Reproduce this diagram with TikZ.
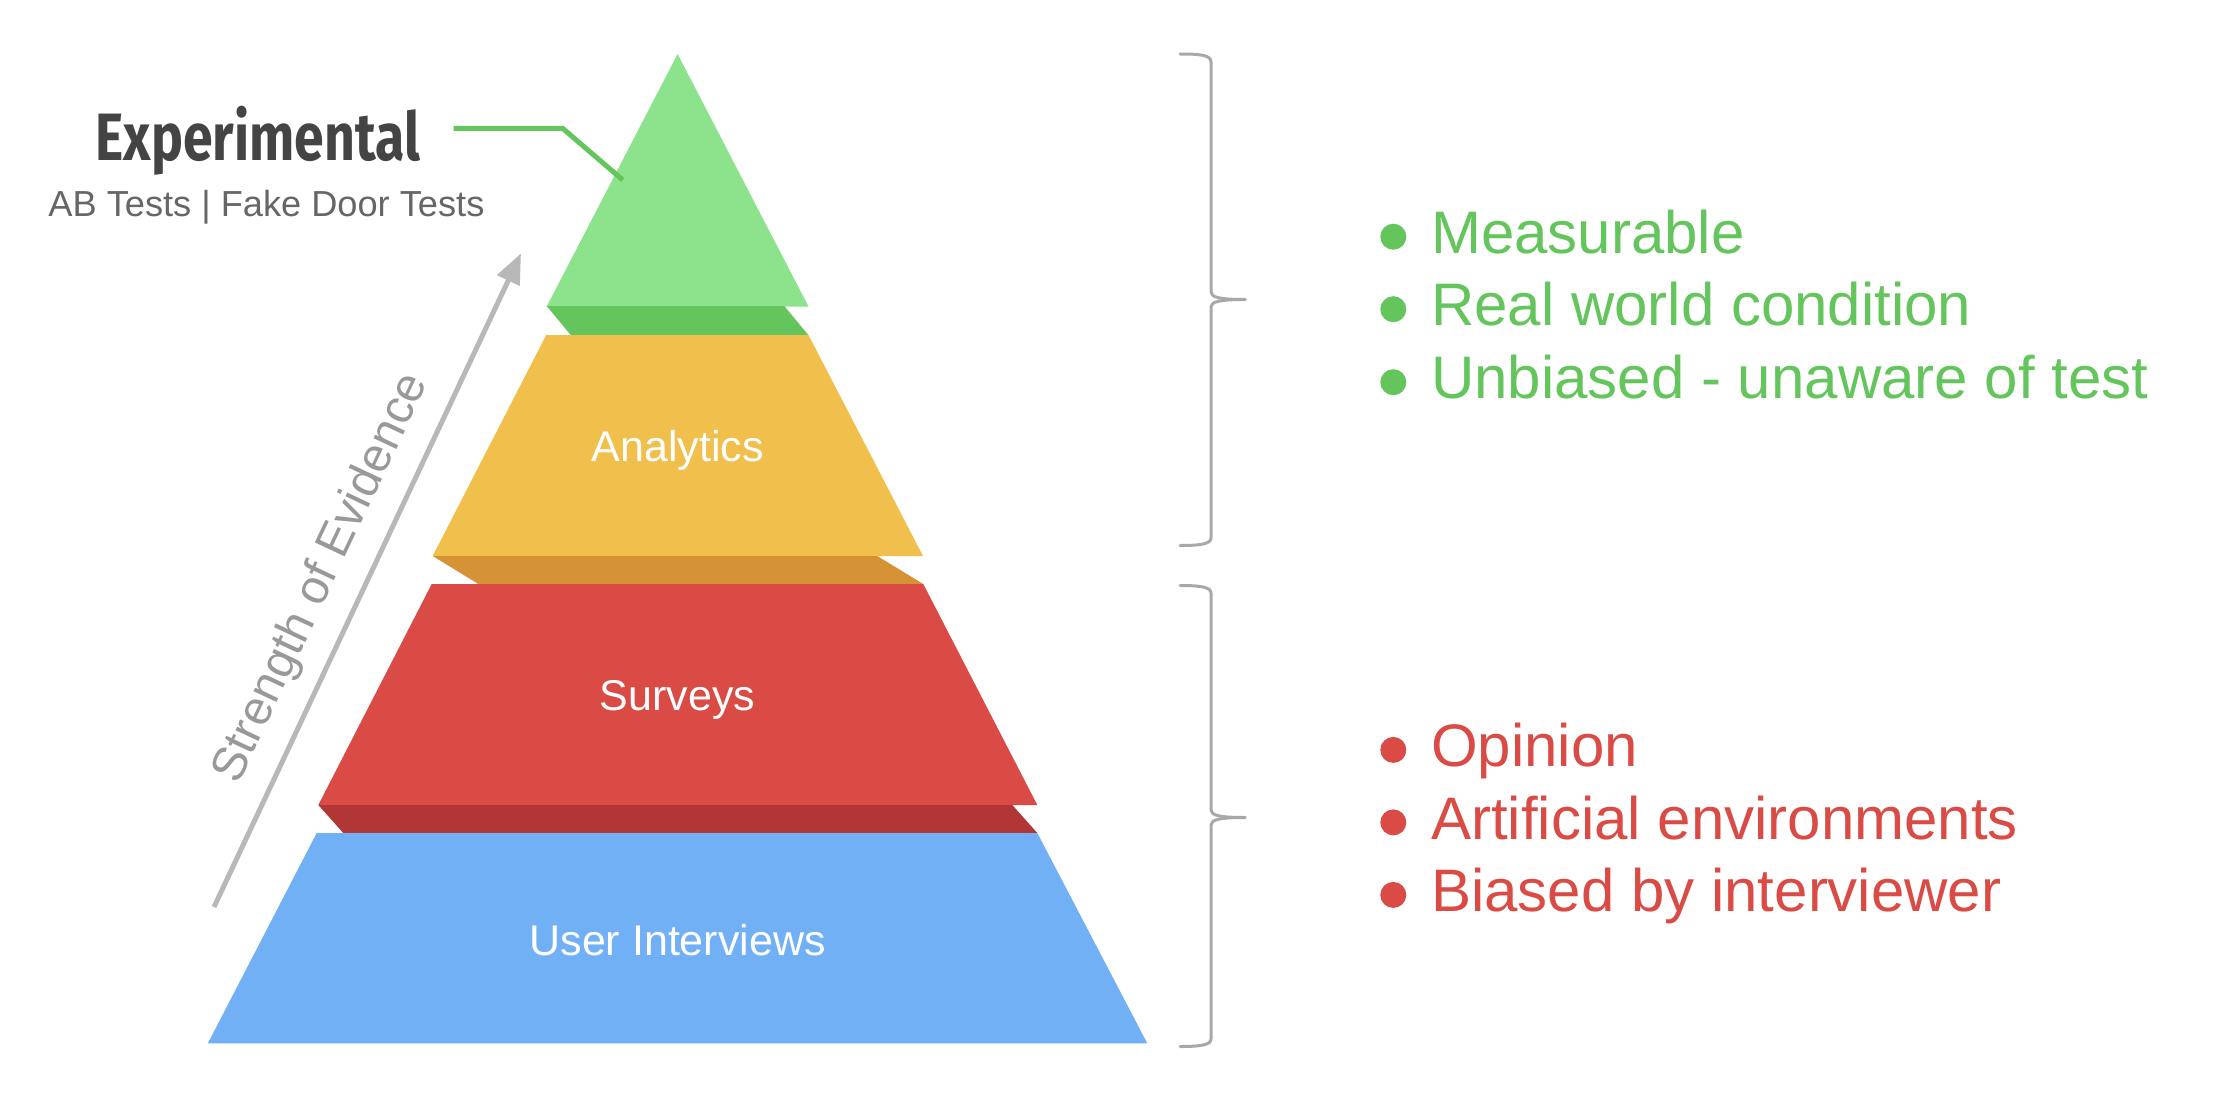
\documentclass[tikz,border=0pt]{standalone}
\usepackage{fontspec}
\setmainfont{Liberation Sans}
\newfontfamily\firafont{Fira Sans}
\usetikzlibrary{arrows.meta}
\definecolor{lgreen}{HTML}{8CE38C}
\definecolor{dgreen}{HTML}{64C55C}
\definecolor{cyellow}{HTML}{F1BF4B}
\definecolor{corange}{HTML}{D59336}
\definecolor{cred}{HTML}{DA4B45}
\definecolor{dred}{HTML}{B33636}
\definecolor{cblue}{HTML}{72B0F5}
\definecolor{bracegray}{HTML}{A8A8A8}
\definecolor{arrowgray}{HTML}{B8B8B8}
\definecolor{textdark}{HTML}{444444}
\definecolor{textmid}{HTML}{666666}
\definecolor{textsoe}{HTML}{999999}
\tikzset{
  layerlabel/.style={anchor=base, inner sep=0pt, text=white, font=\fontsize{43}{50}\selectfont},
  listitem/.style={anchor=base west, inner sep=0pt, font=\fontsize{60}{72}\selectfont},
  bracestyle/.style={draw=bracegray, line width=3pt, line cap=round, line join=round},
  leader/.style={draw=dgreen, line width=5pt},
  evarrow/.style={draw=arrowgray, line width=5pt, -{Triangle[length=30pt,width=24pt]}},
}
\begin{document}
\begin{tikzpicture}[x=1pt,y=-1pt]
\useasboundingbox (0,0) rectangle (2232,1108);
% pyramid layers
\fill[lgreen] (677.6,54) -- (808.5,306.5) -- (546.7,306.5) -- cycle;
\fill[dgreen] (546.7,306) -- (784.3,306) -- (808.3,335) -- (570.7,335) -- cycle;
\fill[cyellow] (546.2,335) -- (808.5,335) -- (923,556) -- (432.7,556) -- cycle;
\fill[corange] (432.7,556) -- (877.3,556) -- (923.3,584) -- (478.3,584) -- cycle;
\fill[cred] (431.7,584) -- (923.3,584) -- (1037.3,805) -- (318.3,805) -- cycle;
\fill[dred] (318.3,805) -- (1012.3,805) -- (1037.3,833) -- (343.3,833) -- cycle;
\fill[cblue] (316.7,833) -- (1037.3,833) -- (1147.3,1043.4) -- (207.8,1043.4) -- cycle;
% layer labels
\node[layerlabel] (analytics) at (677.6,461.7) {Analytics};
\node[layerlabel] (surveys) at (677.6,710.5) {Surveys};
\node[layerlabel] (interviews) at (677.6,955) {User Interviews};
% experimental label
\node[anchor=base, inner sep=0pt, text=textdark, font=\firafont\bfseries\fontsize{67}{75}\selectfont] (expt) at (257.7,160) {\scalebox{0.8}[1]{Experimental}};
\node[anchor=base, inner sep=0pt, text=textmid, font=\fontsize{36.2}{42}\selectfont] (abtests) at (266.4,216.7) {AB Tests | Fake Door Tests};
\coordinate (ls) at (453.5,128.3);
\coordinate (lm) at (562.6,128.3);
\coordinate (lead) at (622.8,180);
\draw[leader] (ls) -- (lm) -- (lead);
% strength of evidence arrow
\coordinate (a0) at (214,907);
\coordinate (a1) at (521,253.4);
\draw[evarrow] (a0) -- (a1);
\node[rotate=64.8, inner sep=0pt, text=textsoe, font=\fontsize{48}{56}\selectfont] (soe) at (321.9,578.3) {Strength of Evidence};
% braces
\draw[bracestyle] (1180,54) .. controls (1200,54) and (1211,55) .. (1211,62) -- (1211,292) .. controls (1211,297.5) and (1220,299.5) .. (1245,299.5);
\draw[bracestyle] (1245,299.5) .. controls (1220,299.5) and (1211,301.5) .. (1211,307) -- (1211,538) .. controls (1211,544) and (1200,545.5) .. (1180,545.5);
\draw[bracestyle] (1180,585.5) .. controls (1200,585.5) and (1211,587) .. (1211,593) -- (1211,810) .. controls (1211,815.5) and (1220,817.5) .. (1245,817.5);
\draw[bracestyle] (1245,817.5) .. controls (1220,817.5) and (1211,819.5) .. (1211,825) -- (1211,1039) .. controls (1211,1045) and (1200,1046.5) .. (1180,1046.5);
% green list
\fill[dgreen] (1393.3,236.7) circle (13);
\fill[dgreen] (1393.3,309.2) circle (13);
\fill[dgreen] (1393.3,382.2) circle (13);
\node[listitem, text=dgreen] (g1) at (1431,253.3) {Measurable};
\node[listitem, text=dgreen] (g2) at (1431,325.8) {Real world condition};
\node[listitem, text=dgreen] (g3) at (1431,398.8) {Unbiased - unaware of test};
% red list
\fill[cred] (1393.3,749.9) circle (13);
\fill[cred] (1393.3,822.4) circle (13);
\fill[cred] (1393.3,894.9) circle (13);
\node[listitem, text=cred] (r1) at (1431,766.5) {Opinion};
\node[listitem, text=cred] (r2) at (1431,839) {Artificial environments};
\node[listitem, text=cred] (r3) at (1431,911.5) {Biased by interviewer};
\end{tikzpicture}
\end{document}
